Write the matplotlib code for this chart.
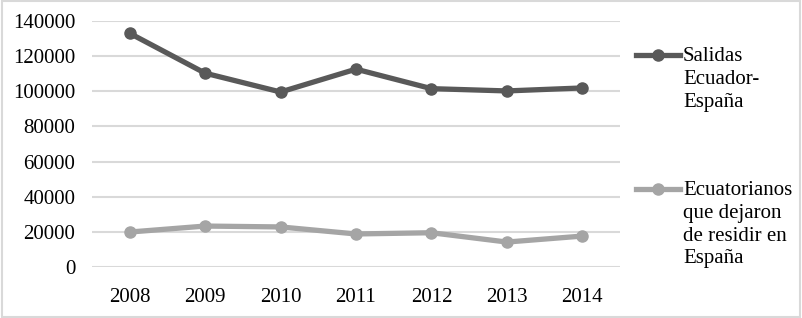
import matplotlib.pyplot as plt
from matplotlib.lines import Line2D
from matplotlib.patches import Rectangle

years = ['2008', '2009', '2010', '2011', '2012', '2013', '2014']
salidas = [133000, 110300, 99600, 112600, 101500, 100200, 101900]
dejaron = [19900, 23300, 22800, 18800, 19500, 14200, 17600]
labels = ['Salidas\nEcuador-\nEspaña', 'Ecuatorianos\nque dejaron\nde residir en\nEspaña']
color1 = '#595959'
color2 = '#a5a5a5'

plt.rcParams['font.family'] = 'serif'
plt.rcParams['font.serif'] = ['Liberation Serif', 'DejaVu Serif']

fig = plt.figure(figsize=(8.02, 3.18), dpi=100)
ax = fig.add_axes([92 / 802, 1 - 267 / 318, 528 / 802, 246 / 318])

x = range(len(years))
ax.plot(x, salidas, color=color1, linewidth=3.8, marker='o', markersize=8, solid_capstyle='round', zorder=3)
ax.plot(x, dejaron, color=color2, linewidth=3.8, marker='o', markersize=8, solid_capstyle='round', zorder=3)

ax.set_xlim(-0.5, len(years) - 0.5)
ax.set_ylim(0, 140000)
ax.set_yticks(range(0, 140001, 20000))
ax.set_yticklabels([str(v) for v in range(0, 140001, 20000)])
ax.set_xticks(list(x))
ax.set_xticklabels(years)
ax.tick_params(length=0, labelsize=15, colors='black')
ax.tick_params(axis='y', pad=12)
ax.tick_params(axis='x', pad=15)
ax.grid(axis='y', color='#d9d9d9', linewidth=1.5)
ax.set_axisbelow(True)
for s in ax.spines.values():
    s.set_visible(False)

# legend drawn by hand so the marker sits on the first text line
entries = [(labels[0], color1, 55), (labels[1], color2, 189)]
for text, c, ypix in entries:
    yf = 1 - ypix / 318
    fig.add_artist(Line2D([636 / 802, 680 / 802], [yf, yf], color=c, linewidth=3.8,
                          transform=fig.transFigure))
    fig.add_artist(Line2D([658 / 802], [yf], color=c, marker='o', markersize=8,
                          transform=fig.transFigure))
    fig.text(683 / 802, yf + 8 / 318, text, fontsize=15, va='top', ha='left', linespacing=1.27)

fig.add_artist(Rectangle((0.002, 0.004), 0.996, 0.992, transform=fig.transFigure,
                         fill=False, edgecolor='#d9d9d9', linewidth=1.5))

fig.savefig('out.png', dpi=100)
